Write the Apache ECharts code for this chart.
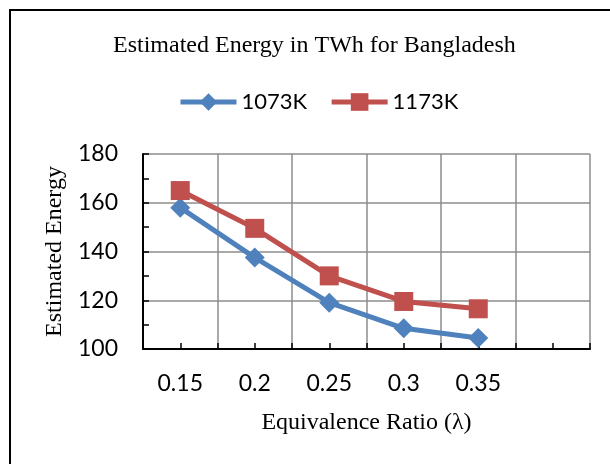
<!DOCTYPE html>
<html>
<head>
<meta charset="utf-8">
<script src="https://cdn.jsdelivr.net/npm/echarts@6/dist/echarts.min.js"></script>
<style>
  html, body { margin: 0; padding: 0; background: #fff; }
  #chart { width: 610px; height: 464px; }
</style>
</head>
<body>
<div id="chart"></div>
<script>
// Data
const ratios = ['0.15', '0.2', '0.25', '0.3', '0.35', '']
const energy1073 = [158, 137.5, 119, 108.5, 104.5]
const energy1173 = [165, 149.5, 130, 119.5, 116.5]
const yTicks = { min: 100, max: 180, step: 20 }

const blue = '#4F81BD'
const red = '#C0504D'
const serif = '"Liberation Serif", "Times New Roman", serif'
const sans = 'Lato, "Open Sans", sans-serif'

const chart = echarts.init(document.getElementById('chart'))

// second category axis with twice the bands, only used for the tick marks
const tickSlots = Array(ratios.length * 2).fill('')

chart.setOption({
  animation: false,
  title: {
    text: 'Estimated Energy in TWh for Bangladesh',
    left: 108,
    top: 29,
    textStyle: { fontFamily: serif, fontSize: 24, fontWeight: 'normal', color: '#000' }
  },
  legend: {
    left: 173,
    top: 86,
    itemWidth: 56,
    itemHeight: 22,
    itemGap: 22,
    lineStyle: { width: 5 },
    textStyle: { fontFamily: sans, fontSize: 22, color: '#000' },
    data: ['1073K', '1173K']
  },
  graphic: [{
    type: 'rect',
    shape: { x: 10, y: 10, width: 700, height: 600 },
    style: { fill: 'none', stroke: '#000', lineWidth: 2 },
    silent: true
  }],
  grid: { left: 143, right: 20, top: 154, bottom: 115 },
  xAxis: [{
    type: 'category',
    data: ratios,
    boundaryGap: true,
    name: 'Equivalence Ratio (λ)',
    nameLocation: 'middle',
    nameGap: 62,
    nameTextStyle: { fontFamily: serif, fontSize: 24, color: '#000' },
    axisLine: { lineStyle: { color: '#000', width: 2 } },
    axisTick: { show: false },
    axisLabel: { margin: 23, fontFamily: sans, fontSize: 23, color: '#000' },
    splitLine: { show: true, lineStyle: { color: '#8c8c8c', width: 1.5 } }
  }, {
    type: 'category',
    data: tickSlots,
    position: 'bottom',
    boundaryGap: true,
    axisLine: { show: false },
    axisTick: { show: true, inside: true, length: 6, interval: 0, lineStyle: { color: '#000', width: 1.5 } },
    axisLabel: { show: false },
    splitLine: { show: false }
  }],
  yAxis: {
    type: 'value',
    min: yTicks.min,
    max: yTicks.max,
    interval: yTicks.step,
    name: 'Estimated Energy',
    nameLocation: 'middle',
    nameRotate: 90,
    nameGap: 75,
    nameTextStyle: { fontFamily: serif, fontSize: 24, color: '#000' },
    axisLine: { show: true, lineStyle: { color: '#000', width: 2 } },
    axisTick: { show: true, inside: true, length: 6, lineStyle: { color: '#000', width: 1.5 } },
    minorTick: { show: true, splitNumber: 2, length: 6, lineStyle: { color: '#000', width: 1.5 } },
    axisLabel: { margin: 25, fontFamily: sans, fontSize: 23, color: '#000' },
    splitLine: { show: true, lineStyle: { color: '#8c8c8c', width: 1.5 } }
  },
  series: [{
    name: '1073K',
    type: 'line',
    data: energy1073,
    symbol: 'diamond',
    symbolSize: 20,
    itemStyle: { color: blue },
    lineStyle: { color: blue, width: 5 }
  }, {
    name: '1173K',
    type: 'line',
    data: energy1173,
    symbol: 'rect',
    symbolSize: 19,
    itemStyle: { color: red },
    lineStyle: { color: red, width: 5 }
  }]
})
</script>
</body>
</html>
